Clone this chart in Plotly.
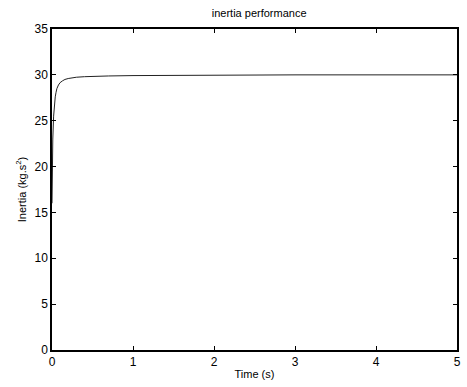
import plotly.graph_objects as go

time_s = [0, 0.005, 0.01, 0.02, 0.03, 0.04, 0.05, 0.06, 0.08, 0.1, 0.13, 0.16, 0.2, 0.25, 0.3, 0.4, 0.5, 0.7, 1.0, 1.5, 1.9, 2.0, 3.0, 4.0, 5.0]
inertia = [16.0, 20.5, 23.0, 25.5, 26.8, 27.6, 28.1, 28.5, 28.9, 29.15, 29.35, 29.5, 29.6, 29.68, 29.74, 29.8, 29.84, 29.88, 29.92, 29.95, 29.97, 30.0, 30.0, 30.0, 30.0]

x_ticks = [0, 1, 2, 3, 4, 5]
y_ticks = [0, 5, 10, 15, 20, 25, 30, 35]

fig = go.Figure()
fig.add_trace(go.Scatter(x=time_s, y=inertia, mode="lines",
                         line=dict(color="#222222", width=1), showlegend=False))

font = "Liberation Sans, Arial, sans-serif"
axis_common = dict(showgrid=False, zeroline=False, showline=True, linecolor="black",
                   linewidth=1.5, mirror="ticks", ticks="inside", ticklen=4,
                   tickcolor="black", tickfont=dict(family=font, size=12, color="black"))

fig.update_layout(
    width=467, height=387,
    margin=dict(l=52, r=6, t=29, b=37),
    paper_bgcolor="white", plot_bgcolor="white",
    title=dict(text="inertia performance", x=0.555, xanchor="center", y=0.975, yanchor="top",
               font=dict(family=font, size=11, color="black")),
    xaxis=dict(range=[0, 5], tickvals=x_ticks,
               title=dict(text="Time (s)", font=dict(family=font, size=11, color="black"), standoff=2),
               **axis_common),
    yaxis=dict(range=[0, 35], tickvals=y_ticks,
               title=dict(text="Inertia (kg.s<sup>2</sup>)", font=dict(family=font, size=11, color="black"), standoff=6),
               **axis_common),
)

fig.write_html("out.html")
